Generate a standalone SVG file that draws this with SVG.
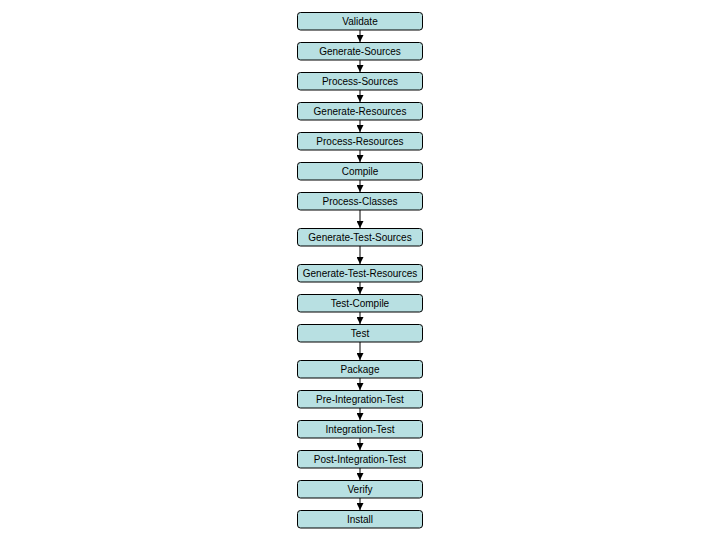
<svg xmlns="http://www.w3.org/2000/svg" width="720" height="540" viewBox="0 0 720 540">
<defs>
<style>
.n rect{fill:#b8e0e2;stroke:#000;stroke-width:1}
.n text{font-family:"Liberation Sans",Arial,sans-serif;font-size:10px;fill:#000;text-anchor:middle}
.c line{stroke:#000;stroke-width:1}
</style>
<marker id="ah" markerWidth="7" markerHeight="7" refX="7" refY="3.5" orient="auto" markerUnits="userSpaceOnUse">
<path d="M0,0 L7,3.5 L0,7 Z" fill="#000"/>
</marker>
</defs>
<rect width="720" height="540" fill="#fff"/>
<g id="connectors" class="c">
<line x1="360" y1="30" x2="360" y2="42" marker-end="url(#ah)"/>
<line x1="360" y1="60" x2="360" y2="72" marker-end="url(#ah)"/>
<line x1="360" y1="90" x2="360" y2="102" marker-end="url(#ah)"/>
<line x1="360" y1="120" x2="360" y2="132" marker-end="url(#ah)"/>
<line x1="360" y1="150" x2="360" y2="162" marker-end="url(#ah)"/>
<line x1="360" y1="180" x2="360" y2="192" marker-end="url(#ah)"/>
<line x1="360" y1="210" x2="360" y2="228" marker-end="url(#ah)"/>
<line x1="360" y1="246" x2="360" y2="264" marker-end="url(#ah)"/>
<line x1="360" y1="282" x2="360" y2="294" marker-end="url(#ah)"/>
<line x1="360" y1="312" x2="360" y2="324" marker-end="url(#ah)"/>
<line x1="360" y1="342" x2="360" y2="360" marker-end="url(#ah)"/>
<line x1="360" y1="378" x2="360" y2="390" marker-end="url(#ah)"/>
<line x1="360" y1="408" x2="360" y2="420" marker-end="url(#ah)"/>
<line x1="360" y1="438" x2="360" y2="450" marker-end="url(#ah)"/>
<line x1="360" y1="468" x2="360" y2="480" marker-end="url(#ah)"/>
<line x1="360" y1="498" x2="360" y2="510" marker-end="url(#ah)"/>
</g>
<g id="validate" class="n"><rect x="297.5" y="12.5" width="125" height="17.5" rx="3"/><text x="360" y="24.7">Validate</text></g>
<g id="generate-sources" class="n"><rect x="297.5" y="42.5" width="125" height="17.5" rx="3"/><text x="360" y="54.7">Generate-Sources</text></g>
<g id="process-sources" class="n"><rect x="297.5" y="72.5" width="125" height="17.5" rx="3"/><text x="360" y="84.7">Process-Sources</text></g>
<g id="generate-resources" class="n"><rect x="297.5" y="102.5" width="125" height="17.5" rx="3"/><text x="360" y="114.7">Generate-Resources</text></g>
<g id="process-resources" class="n"><rect x="297.5" y="132.5" width="125" height="17.5" rx="3"/><text x="360" y="144.7">Process-Resources</text></g>
<g id="compile" class="n"><rect x="297.5" y="162.5" width="125" height="17.5" rx="3"/><text x="360" y="174.7">Compile</text></g>
<g id="process-classes" class="n"><rect x="297.5" y="192.5" width="125" height="17.5" rx="3"/><text x="360" y="204.7">Process-Classes</text></g>
<g id="generate-test-sources" class="n"><rect x="297.5" y="228.5" width="125" height="17.5" rx="3"/><text x="360" y="240.7">Generate-Test-Sources</text></g>
<g id="generate-test-resources" class="n"><rect x="297.5" y="264.5" width="125" height="17.5" rx="3"/><text x="360" y="276.7">Generate-Test-Resources</text></g>
<g id="test-compile" class="n"><rect x="297.5" y="294.5" width="125" height="17.5" rx="3"/><text x="360" y="306.7">Test-Compile</text></g>
<g id="test" class="n"><rect x="297.5" y="324.5" width="125" height="17.5" rx="3"/><text x="360" y="336.7">Test</text></g>
<g id="package" class="n"><rect x="297.5" y="360.5" width="125" height="17.5" rx="3"/><text x="360" y="372.7">Package</text></g>
<g id="pre-integration-test" class="n"><rect x="297.5" y="390.5" width="125" height="17.5" rx="3"/><text x="360" y="402.7">Pre-Integration-Test</text></g>
<g id="integration-test" class="n"><rect x="297.5" y="420.5" width="125" height="17.5" rx="3"/><text x="360" y="432.7">Integration-Test</text></g>
<g id="post-integration-test" class="n"><rect x="297.5" y="450.5" width="125" height="17.5" rx="3"/><text x="360" y="462.7">Post-Integration-Test</text></g>
<g id="verify" class="n"><rect x="297.5" y="480.5" width="125" height="17.5" rx="3"/><text x="360" y="492.7">Verify</text></g>
<g id="install" class="n"><rect x="297.5" y="510.5" width="125" height="17.5" rx="3"/><text x="360" y="522.7">Install</text></g>
</svg>
